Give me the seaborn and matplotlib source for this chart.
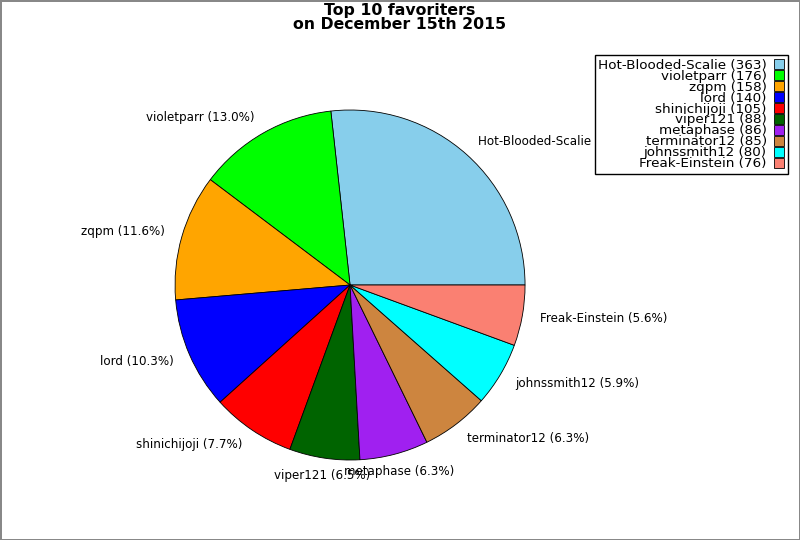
import matplotlib
matplotlib.use("Agg")
import matplotlib.pyplot as plt
import seaborn as sns

names = ["Hot-Blooded-Scalie", "violetparr", "zqpm", "lord", "shinichijoji",
         "viper121", "metaphase", "terminator12", "johnssmith12", "Freak-Einstein"]
favs = [363, 176, 158, 140, 105, 88, 86, 85, 80, 76]
colors = ["#87CEEB", "#00FF00", "#FFA500", "#0000FF", "#FF0000",
          "#006400", "#A020F0", "#CD853F", "#00FFFF", "#FA8072"]

sns.set_style("white")
plt.rcParams["font.family"] = ["DejaVu Sans"]
plt.rcParams["text.color"] = "black"

total = sum(favs)
pie_labels = [f"{n} ({v / total * 100:.1f}%)" for n, v in zip(names, favs)]
legend_labels = [f"{n} ({v})" for n, v in zip(names, favs)]

fig = plt.figure(figsize=(8, 5.4), dpi=100, edgecolor="#888888", linewidth=2)
ax = fig.add_axes([0.1641, 0.0671, 0.5469, 0.8102])

wedges, texts = ax.pie(favs, labels=pie_labels, colors=colors, startangle=0,
                       counterclock=True,
                       wedgeprops=dict(edgecolor="black", linewidth=0.6),
                       textprops=dict(fontsize=8.6, color="black"))
ax.set_xlim(-1.25, 1.25)
ax.set_ylim(-1.25, 1.25)
ax.set_aspect("equal")

# labels near the bottom/top are centred on their anchor
for t in texts:
    x, y = t.get_position()
    if abs(x) < 0.4:
        t.set_ha("center")

leg = fig.legend(wedges, legend_labels, loc="upper right",
                 bbox_to_anchor=(0.993, 0.9102), markerfirst=False,
                 fontsize=9.7, labelspacing=-0.15, handlelength=0.8,
                 handleheight=0.8, handletextpad=0.5, borderpad=0.25,
                 fancybox=False, framealpha=1, edgecolor="black")
for t in leg.get_texts():
    t.set_ha("right")
leg._legend_box.align = "right"

fig.suptitle("Top 10 favoriters\non December 15th 2015", fontsize=11.3,
             fontweight="bold", y=0.995, linespacing=0.95)

fig.savefig("out.png", dpi=100, edgecolor=fig.get_edgecolor())
